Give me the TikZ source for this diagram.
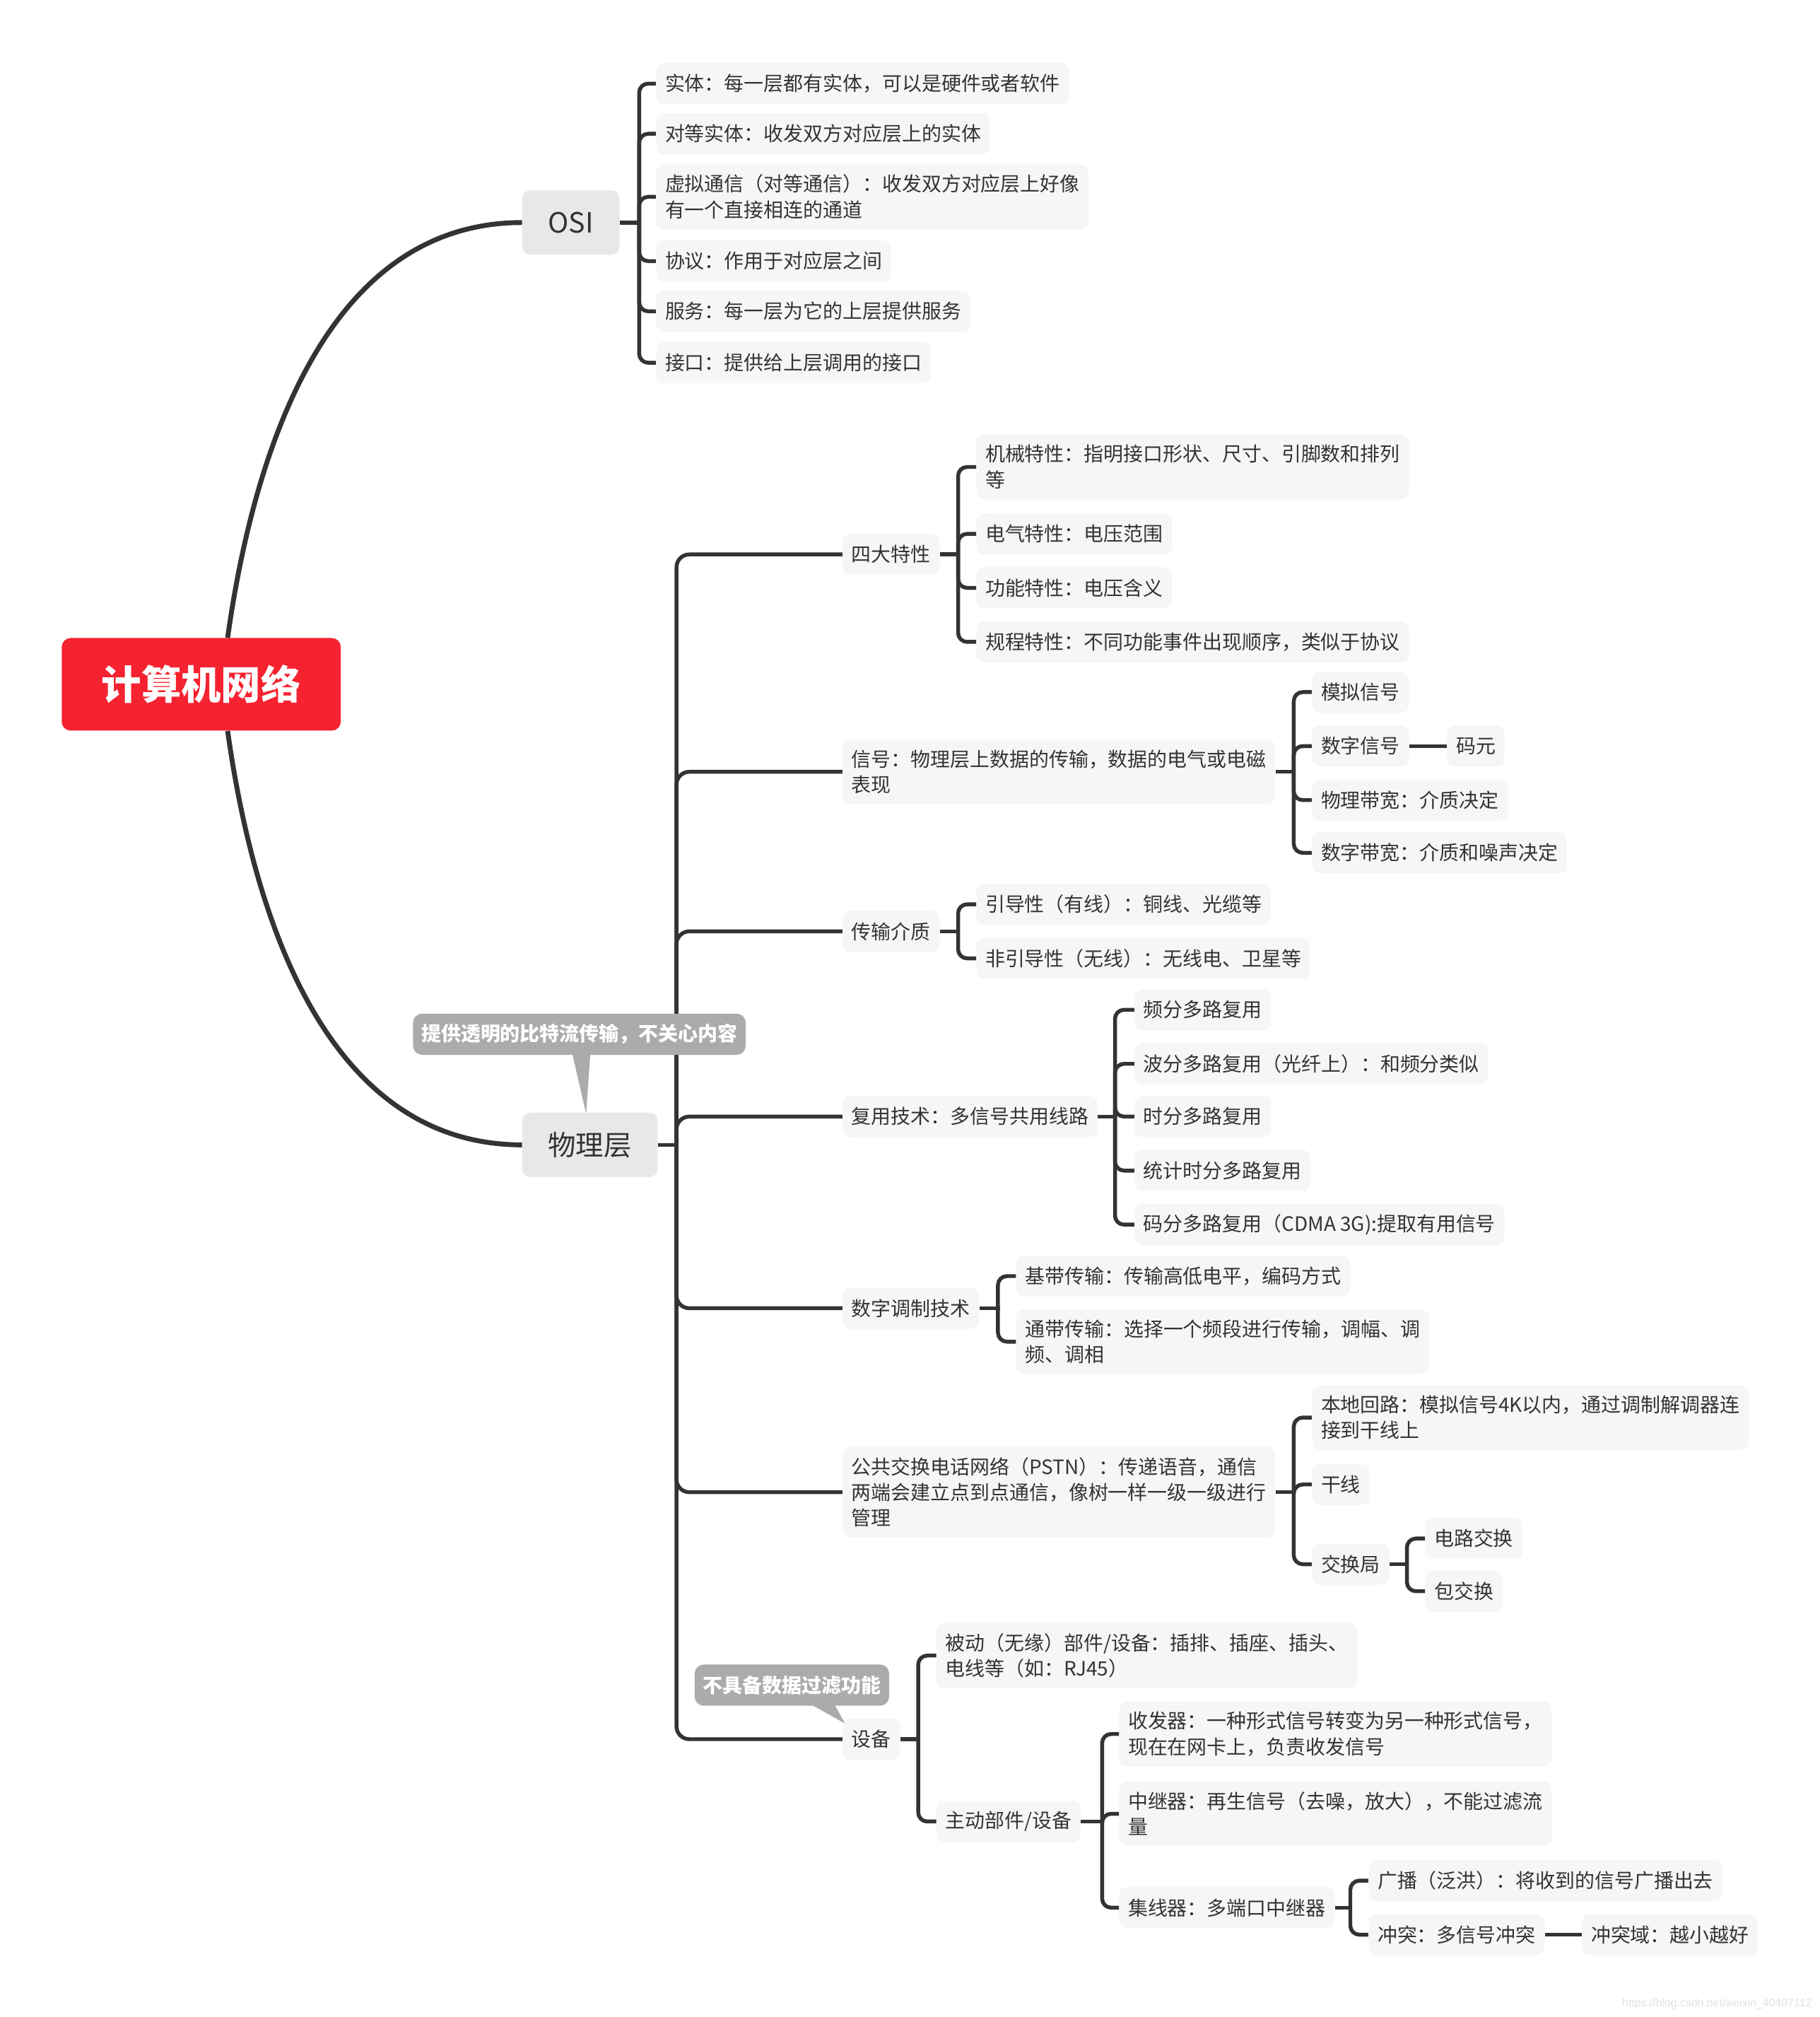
\documentclass[tikz,border=0pt]{standalone}
\usepackage{fontspec}
\setmainfont{Noto Sans CJK SC}
\newfontfamily\wmfamily{Liberation Sans}
\usetikzlibrary{calc}
\definecolor{lc}{HTML}{333333}
\definecolor{tc}{HTML}{333333}
\definecolor{leaffill}{HTML}{F6F6F6}
\definecolor{midfill}{HTML}{E8E8E8}
\definecolor{rootfill}{HTML}{F52230}
\definecolor{callfill}{HTML}{ABABAB}
\definecolor{wm}{HTML}{E2E2E2}
\newcommand\leaffont{\fontsize{15.35pt}{20pt}\selectfont}
\newcommand\midfont{\fontsize{21.7pt}{26pt}\selectfont}
\newcommand\rootfont{\fontsize{31pt}{36pt}\selectfont\bfseries}
\newcommand\callfont{\fontsize{15.35pt}{20pt}\selectfont\bfseries}
\newcommand\wmfont{\wmfamily\fontsize{8.7pt}{10pt}\selectfont}
\newcommand\mmbranch[4]{%
  \coordinate (mmx) at (#2,0);
  \coordinate (#1-j) at (#1.east -| mmx);
  \draw[lnk] (#1.east) -- ([xshift=1.5pt]#1-j);
  \foreach \mmc in {#4}{\draw[lnk,rounded corners=#3pt] (#1-j) |- (\mmc.west);}%
}
\begin{document}
\begin{tikzpicture}[x=1pt,y=-1pt,
  leaf/.style={fill=leaffill, rounded corners=6pt, inner xsep=7pt, inner ysep=8pt,
    minimum height=32pt, anchor=west, font=\leaffont, text=tc, align=left},
  mid/.style={fill=midfill, rounded corners=6pt, inner xsep=20pt, inner ysep=0pt,
    minimum height=50pt, anchor=west, font=\midfont, text=tc},
  rootbox/.style={fill=rootfill, rounded corners=7pt, minimum width=217pt,
    minimum height=72pt, inner sep=0pt, font=\rootfont, text=white},
  callout/.style={fill=callfill, rounded corners=7pt, inner xsep=6.5pt, inner ysep=0pt,
    minimum height=32pt, anchor=west, font=\callfont, text=white},
  lnk/.style={draw=lc, line width=3pt},
  curve/.style={draw=lc, line width=3.8pt}]
\useasboundingbox (0,0) rectangle (1415,1568);
\fill[white] (0,0) rectangle (1415,1568);

% root and main branches
\node[rootbox] (root) at (156.5,532) {计算机网络};
\node[mid] (osi) at (406,173) {OSI};
\node[mid] (phy) at (406,890) {物理层};

% OSI children
\node[leaf] (o1) at (510,65) {实体：每一层都有实体，可以是硬件或者软件};
\node[leaf] (o2) at (510,104) {对等实体：收发双方对应层上的实体};
\node[leaf] (o3) at (510,153) {虚拟通信（对等通信）：收发双方对应层上好像\\有一个直接相连的通道};
\node[leaf] (o4) at (510,203) {协议：作用于对应层之间};
\node[leaf] (o5) at (510,242) {服务：每一层为它的上层提供服务};
\node[leaf] (o6) at (510,282) {接口：提供给上层调用的接口};

% physical layer children
\node[leaf] (p1) at (655,431) {四大特性};
\node[leaf] (p2) at (655,600) {信号：物理层上数据的传输，数据的电气或电磁\\表现};
\node[leaf] (p3) at (655,724) {传输介质};
\node[leaf] (p4) at (655,868) {复用技术：多信号共用线路};
\node[leaf] (p5) at (655,1017) {数字调制技术};
\node[leaf] (p6) at (655,1160) {公共交换电话网络（PSTN）：传递语音，通信\\两端会建立点到点通信，像树一样一级一级进行\\管理};
\node[leaf] (p7) at (655,1352) {设备};

% four characteristics
\node[leaf] (s1) at (759,363) {机械特性：指明接口形状、尺寸、引脚数和排列\\等};
\node[leaf] (s2) at (759,415) {电气特性：电压范围};
\node[leaf] (s3) at (759,457) {功能特性：电压含义};
\node[leaf] (s4) at (759,499) {规程特性：不同功能事件出现顺序，类似于协议};

% signal
\node[leaf] (g1) at (1020,538) {模拟信号};
\node[leaf] (g2) at (1020,580) {数字信号};
\node[leaf] (g3) at (1020,622) {物理带宽：介质决定};
\node[leaf] (g4) at (1020,663) {数字带宽：介质和噪声决定};
\node[leaf] (g21) at (1125,580) {码元};

% media
\node[leaf] (m1) at (759,703) {引导性（有线）：铜线、光缆等};
\node[leaf] (m2) at (759,745) {非引导性（无线）：无线电、卫星等};

% multiplexing
\node[leaf] (f1) at (882,785) {频分多路复用};
\node[leaf] (f2) at (882,827) {波分多路复用（光纤上）：和频分类似};
\node[leaf] (f3) at (882,868) {时分多路复用};
\node[leaf] (f4) at (882,910) {统计时分多路复用};
\node[leaf] (f5) at (882,952) {码分多路复用（CDMA 3G):提取有用信号};

% modulation
\node[leaf] (d1) at (790,992) {基带传输：传输高低电平，编码方式};
\node[leaf] (d2) at (790,1043) {通带传输：选择一个频段进行传输，调幅、调\\频、调相};

% PSTN
\node[leaf] (t1) at (1020,1102) {本地回路：模拟信号4K以内，通过调制解调器连\\接到干线上};
\node[leaf] (t2) at (1020,1154) {干线};
\node[leaf] (t3) at (1020,1216) {交换局};
\node[leaf] (t31) at (1108,1196) {电路交换};
\node[leaf] (t32) at (1108,1237) {包交换};

% devices
\node[leaf] (e1) at (728,1287) {被动（无缘）部件/设备：插排、插座、插头、\\电线等（如：RJ45）};
\node[leaf] (e2) at (728,1416) {主动部件/设备};
\node[leaf] (a1) at (870,1348) {收发器：一种形式信号转变为另一种形式信号，\\现在在网卡上，负责收发信号};
\node[leaf] (a2) at (870,1410) {中继器：再生信号（去噪，放大），不能过滤流\\量};
\node[leaf] (a3) at (870,1483) {集线器：多端口中继器};
\node[leaf] (h1) at (1064,1462) {广播（泛洪）：将收到的信号广播出去};
\node[leaf] (h2) at (1064,1504) {冲突：多信号冲突};
\node[leaf] (h21) at (1230,1504) {冲突域：越小越好};

% main curves
\draw[curve] ([xshift=20.5pt]root.north) .. controls (198,346) and (256,173) .. (osi.west);
\draw[curve] ([xshift=20.5pt]root.south) .. controls (198,718) and (256,890) .. (phy.west);

% brackets
\mmbranch{osi}{497}{7}{o1,o2,o3,o4,o5,o6}
\mmbranch{phy}{526}{10}{p1,p2,p3,p4,p5,p6,p7}
\mmbranch{p1}{745}{7}{s1,s2,s3,s4}
\mmbranch{p2}{1006}{7}{g1,g2,g3,g4}
\mmbranch{p3}{745}{7}{m1,m2}
\mmbranch{p4}{867}{7}{f1,f2,f3,f4,f5}
\mmbranch{p5}{776}{7}{d1,d2}
\mmbranch{p6}{1006}{7}{t1,t2,t3}
\mmbranch{t3}{1094}{7}{t31,t32}
\mmbranch{p7}{714}{7}{e1,e2}
\mmbranch{e2}{857}{7}{a1,a2,a3}
\mmbranch{a3}{1050}{7}{h1,h2}
\draw[lnk] (g2.east) -- (g21.west);
\draw[lnk] (h2.east) -- (h21.west);

% callouts (on top of connectors)
\node[callout] (c1) at (321,804) {提供透明的比特流传输，不关心内容};
\fill[callfill] ([xshift=124pt,yshift=1pt]c1.south west) -- ([xshift=138pt,yshift=1pt]c1.south west) -- ([xshift=-3pt,yshift=-1pt]phy.north) -- cycle;
\node[callout] (c2) at (540,1310) {不具备数据过滤功能};
\fill[callfill] ([xshift=91pt,yshift=1pt]c2.south west) -- ([xshift=109pt,yshift=1pt]c2.south west) -- ([xshift=2pt,yshift=-4pt]p7.north west) -- cycle;

% watermark
\node[anchor=east, font=\wmfont, text=wm, inner sep=0pt] (wmark) at (1409,1558) {https://blog.csdn.net/weixin\_40407112};
\end{tikzpicture}
\end{document}
